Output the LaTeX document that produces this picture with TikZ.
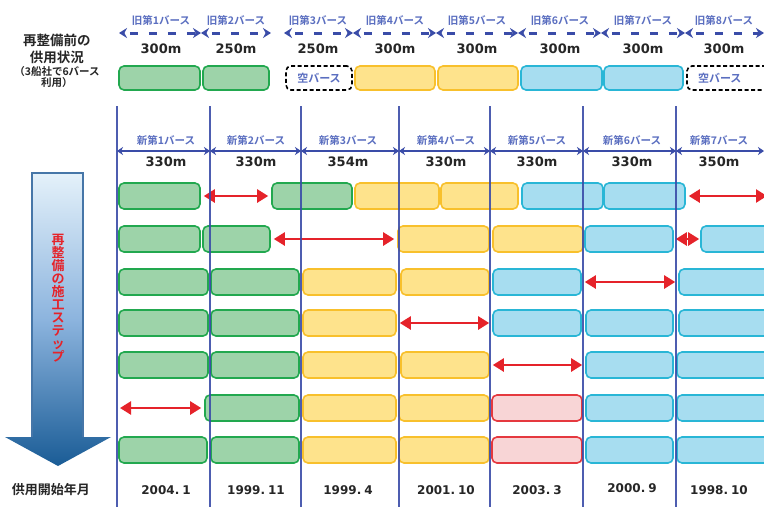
\documentclass[tikz,border=0pt]{standalone}
\usepackage{fontspec}
\setmainfont{Noto Sans CJK JP}[BoldFont={Noto Sans CJK JP Bold}]
\newfontfamily\numfont{DejaVu Sans}
\usetikzlibrary{arrows.meta}
\definecolor{gfill}{HTML}{9DD3A9}
\definecolor{gline}{HTML}{22A84F}
\definecolor{yfill}{HTML}{FEE38C}
\definecolor{yline}{HTML}{F8C02C}
\definecolor{cfill}{HTML}{A7DDF0}
\definecolor{cline}{HTML}{29B6D6}
\definecolor{pfill}{HTML}{F8D5D6}
\definecolor{pline}{HTML}{E5393F}
\definecolor{redarr}{HTML}{E5232A}
\definecolor{navy}{HTML}{3A4CA8}
\definecolor{lblue}{HTML}{5A6EC0}
\definecolor{txt}{HTML}{262626}
\newcommand\bth[5]{\node[#2, minimum width={(#4-#3)*1pt}] (#1) at ({(#3+#4)/2},#5) {};}
\begin{document}
\begin{tikzpicture}[x=1pt,y=-1pt,
  boxbase/.style={rectangle, rounded corners=5pt, line width=1.6pt, minimum height=26pt, inner sep=0pt},
  gbox/.style={boxbase, fill=gfill, draw=gline},
  ybox/.style={boxbase, fill=yfill, draw=yline},
  cbox/.style={boxbase, fill=cfill, draw=cline},
  pbox/.style={boxbase, fill=pfill, draw=pline},
  obox/.style={minimum height=24pt},
  ebox/.style={rectangle, rounded corners=5pt, line width=1.6pt, draw=black, dash pattern=on 4pt off 2.5pt, fill=white, minimum height=24pt, inner sep=0pt, text=lblue, font=\bfseries\fontsize{11}{13}\selectfont},
  redarrow/.style={draw=redarr, line width=2.4pt, {Triangle[length=11pt,width=13pt]}-{Triangle[length=11pt,width=13pt]}, shorten <=3pt, shorten >=3pt},
  oldarrow/.style={draw=navy, line width=3pt, dash pattern=on 8pt off 11pt, dash phase=-6pt, {Stealth[length=8pt,width=10pt]}-{Stealth[length=8pt,width=10pt]}},
  newarrow/.style={draw=navy, line width=1.6pt, {Stealth[length=6pt,width=8pt]}-{Stealth[length=6pt,width=8pt]}},
  vline/.style={draw=navy, line width=2pt, opacity=0.9},
  oldlbl/.style={text=lblue, font=\bfseries\fontsize{10.5}{12}\selectfont},
  newlbl/.style={text=lblue, font=\bfseries\fontsize{10.5}{12}\selectfont},
  num/.style={text=txt, font=\numfont\bfseries\fontsize{13}{15}\selectfont},
  datelbl/.style={text=txt, font=\numfont\bfseries\fontsize{12}{14}\selectfont},
  leftlbl/.style={text=txt, font=\bfseries\fontsize{13.5}{16}\selectfont},
  leftsm/.style={text=txt, font=\bfseries\fontsize{10.5}{12}\selectfont}
]
\useasboundingbox (0,0) rectangle (764,507);
\fill[white] (0,0) rectangle (764,507);

% ---- left labels
\node[leftlbl] (l1) at (57,40) {再整備前の};
\node[leftlbl] (l2) at (57,57) {供用状況};
\node[leftsm] (l3) at (57,72) {（3船社で6バース};
\node[leftsm] (l4) at (57,83) {利用）};
\node[leftlbl, font=\bfseries\fontsize{13}{15}\selectfont] (l5) at (51,490) {供用開始年月};

% ---- big step arrow
\path[top color={rgb,255:red,228;green,241;blue,250}, bottom color={rgb,255:red,26;green,92;blue,150}, middle color={rgb,255:red,140;green,180;blue,222}]
  (32,173) -- (83,173) -- (83,437) -- (111,437) -- (58,466) -- (5,437) -- (32,437) -- cycle;
\draw[draw={rgb,255:red,70;green,118;blue,168}, line width=1.3pt] (32,437) -- (32,173) -- (83,173) -- (83,437);
\node[text=redarr, font=\bfseries\fontsize{13}{13}\selectfont, align=center] (steps) at (58,298)
  {再\\整\\備\\の\\施\\工\\ス\\テ\\ッ\\プ};

% ---- old berths: coordinates
\coordinate (oa0) at (119,33); \coordinate (oa1) at (201,33);
\coordinate (ob0) at (201,33); \coordinate (ob1) at (271,33);
\coordinate (oc0) at (284,33); \coordinate (oc1) at (353,33);
\coordinate (od0) at (353,33); \coordinate (od1) at (436,33);
\coordinate (oe0) at (436,33); \coordinate (oe1) at (518,33);
\coordinate (of0) at (518,33); \coordinate (of1) at (601,33);
\coordinate (og0) at (601,33); \coordinate (og1) at (685,33);
\coordinate (oh0) at (685,33); \coordinate (oh1) at (764,33);
\foreach \n/\t/\v/\c in {a/1/300m/161, b/2/250m/236, c/3/250m/318, d/4/300m/395, e/5/300m/477, f/6/300m/560, g/7/300m/643, h/8/300m/724}{
  \draw[oldarrow] (o\n0) -- (o\n1);
  \node[oldlbl] (ol\n) at (\c,20) {旧第\t バース};
  \node[num] (on\n) at (\c,49) {\v};
}

% ---- old berth boxes
\bth{o1}{gbox,obox}{119}{200}{78}
\bth{o2}{gbox,obox}{203}{269}{78}
\node[ebox, minimum width=66pt] (o3) at (319,78) {空バース};
\bth{o4}{ybox,obox}{355}{435}{78}
\bth{o5}{ybox,obox}{438}{518}{78}
\bth{o6}{cbox,obox}{521}{602}{78}
\bth{o7}{cbox,obox}{604}{683}{78}
\node[ebox, minimum width=84pt, text width=70pt, align=left] (o8) at (729,78) {\hspace*{4pt}空バース};

% ---- row 1
\bth{r1a}{gbox}{119}{200}{196}
\bth{r1b}{gbox}{272}{352}{196}
\bth{r1c}{ybox}{355}{439}{196}
\bth{r1d}{ybox}{441}{518}{196}
\bth{r1e}{cbox}{522}{603}{196}
\bth{r1f}{cbox}{604}{685}{196}
\coordinate (r1end) at (767,196);
\draw[redarrow] (r1a.east) -- (r1b.west);
\draw[redarrow, shorten >=0pt] (r1f.east) -- (r1end);
% ---- row 2
\bth{r2a}{gbox}{119}{200}{239}
\bth{r2b}{gbox}{203}{270}{239}
\bth{r2c}{ybox}{398}{489}{239}
\bth{r2d}{ybox}{493}{583}{239}
\bth{r2e}{cbox}{585}{673}{239}
\bth{r2f}{cbox}{701}{780}{239}
\draw[redarrow] (r2b.east) -- (r2c.west);
\draw[redarrow, shorten <=2pt, shorten >=1pt] (r2e.east) -- (r2f.west);
% ---- row 3
\bth{r3a}{gbox}{119}{208}{282}
\bth{r3b}{gbox}{211}{299}{282}
\bth{r3c}{ybox}{303}{396}{282}
\bth{r3d}{ybox}{401}{489}{282}
\bth{r3e}{cbox}{493}{581}{282}
\bth{r3f}{cbox}{679}{780}{282}
\draw[redarrow] (r3e.east) -- (r3f.west);
% ---- row 4
\bth{r4a}{gbox}{119}{208}{323}
\bth{r4b}{gbox}{211}{299}{323}
\bth{r4c}{ybox}{303}{396}{323}
\bth{r4d}{cbox}{493}{581}{323}
\bth{r4e}{cbox}{586}{673}{323}
\bth{r4f}{cbox}{679}{780}{323}
\draw[redarrow] (r4c.east) -- (r4d.west);
% ---- row 5
\bth{r5a}{gbox}{119}{208}{365}
\bth{r5b}{gbox}{211}{299}{365}
\bth{r5c}{ybox}{303}{396}{365}
\bth{r5d}{ybox}{401}{489}{365}
\bth{r5e}{cbox}{586}{673}{365}
\bth{r5f}{cbox}{677}{780}{365}
\draw[redarrow] (r5d.east) -- (r5e.west);
% ---- row 6
\coordinate (r6start) at (117,408);
\bth{r6b}{gbox}{205}{299}{408}
\bth{r6c}{ybox}{303}{396}{408}
\bth{r6d}{ybox}{399}{489}{408}
\bth{r6e}{pbox}{492}{582}{408}
\bth{r6f}{cbox}{586}{673}{408}
\bth{r6g}{cbox}{677}{780}{408}
\draw[redarrow] (r6start) -- (r6b.west);
% ---- row 7
\bth{r7a}{gbox}{119}{207}{450}
\bth{r7b}{gbox}{211}{299}{450}
\bth{r7c}{ybox}{303}{396}{450}
\bth{r7d}{ybox}{399}{489}{450}
\bth{r7e}{pbox}{492}{582}{450}
\bth{r7f}{cbox}{586}{673}{450}
\bth{r7g}{cbox}{677}{780}{450}

% ---- vertical lines and new berth dimensions
\foreach \i/\x in {0/117,1/210,2/301,3/399,4/490,5/583,6/676}{
  \coordinate (vt\i) at (\x,106);
  \coordinate (vb\i) at (\x,507);
  \coordinate (vd\i) at (\x,151);
  \draw[vline] (vt\i) -- (vb\i);
}
\coordinate (vd7) at (764,151);
\foreach \i/\j/\t/\v/\c/\d/\dy in {0/1/1/330m/166/2004.\hspace{3pt}1/490, 1/2/2/330m/256/1999.\hspace{3pt}11/490, 2/3/3/354m/348/1999.\hspace{3pt}4/490, 3/4/4/330m/446/2001.\hspace{3pt}10/490, 4/5/5/330m/537/2003.\hspace{3pt}3/490, 5/6/6/330m/632/2000.\hspace{3pt}9/488, 6/7/7/350m/719/1998.\hspace{3pt}10/490}{
  \draw[newarrow] (vd\i) -- (vd\j);
  \node[newlbl] (nl\t) at (\c,140) {新第\t バース};
  \node[num] (nn\t) at (\c,162) {\v};
  \node[datelbl] (dt\t) at (\c,\dy) {\d};
}
\end{tikzpicture}
\end{document}
